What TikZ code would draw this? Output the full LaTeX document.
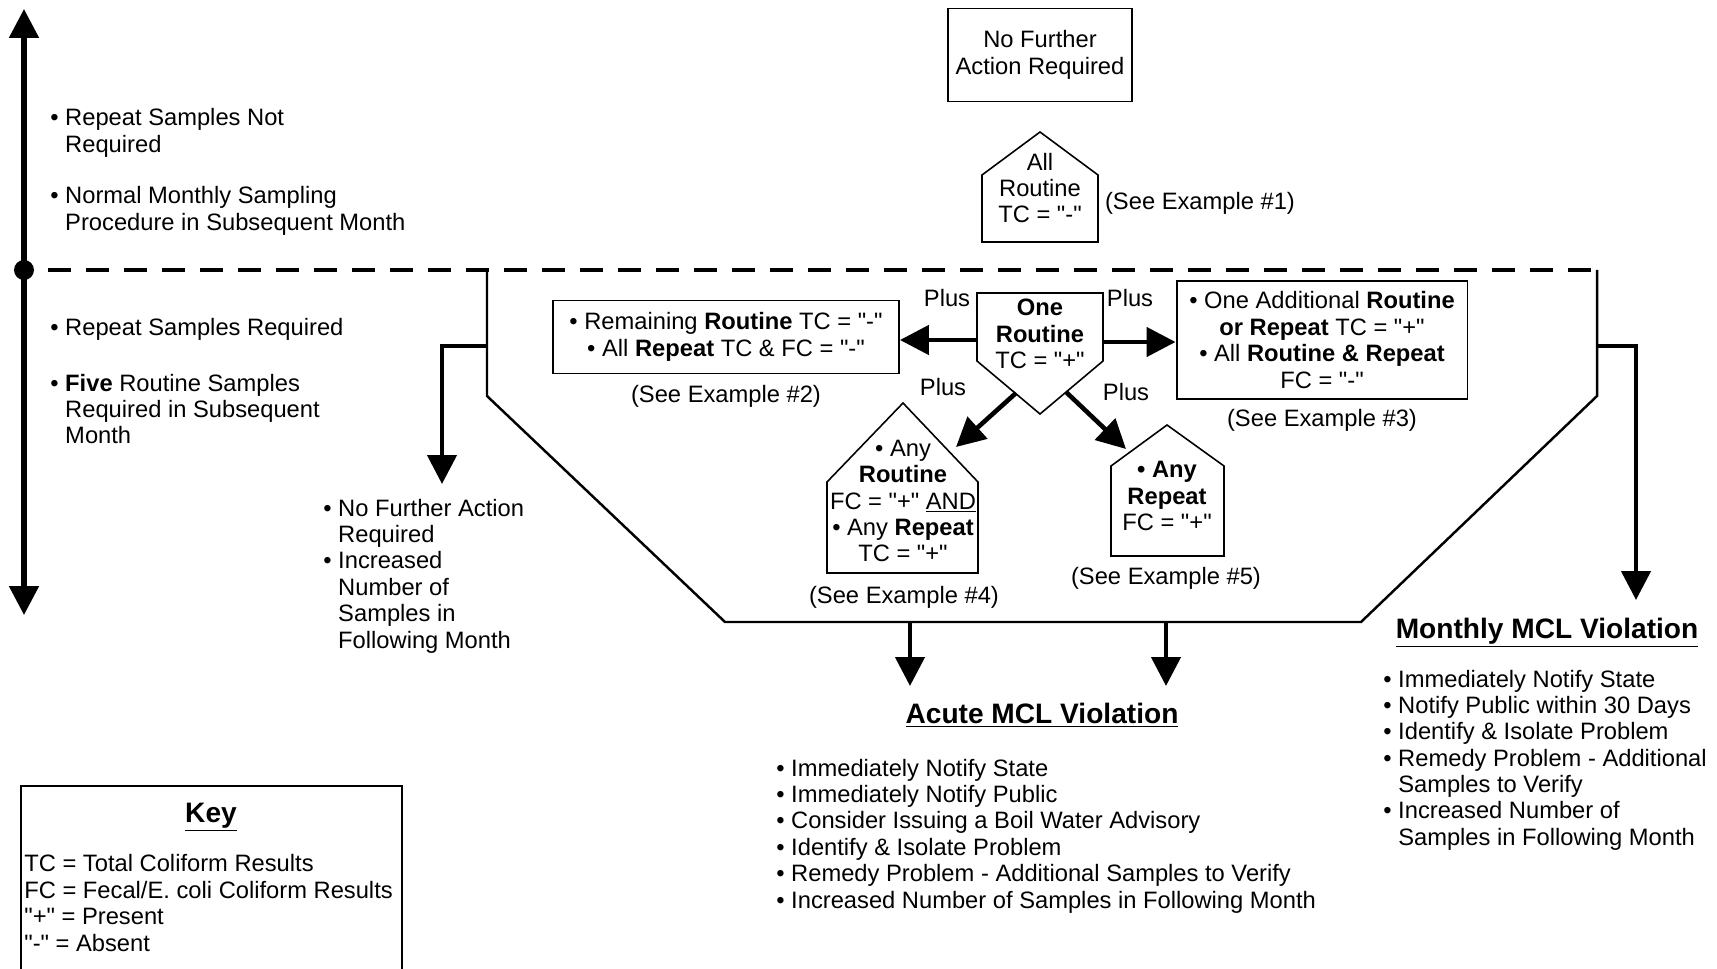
\documentclass[tikz,border=0pt]{standalone}
\usepackage{fontspec}
\setmainfont{Liberation Sans}[Ligatures=TeXOff]
\usetikzlibrary{arrows.meta,positioning}
\newcommand{\indnt}{\phantom{• }}

\begin{document}
\begin{tikzpicture}[x=0.02cm,y=-0.02cm,
  every node/.style={inner sep=0pt,font=\fontsize{13.5}{15}\selectfont},
  panel/.style={draw,line width=1.1pt,align=center},
  roof/.style={line width=0.9pt},
  rim/.style={line width=1.4pt},
  notes/.style={anchor=west,align=left},
  heading/.style={font=\fontsize{16}{19}\selectfont\bfseries},
  flow/.style={line width=2.6pt,-{Triangle[width=16.5pt,length=16.5pt]}},
]
\useasboundingbox (0,0) rectangle (1717,969);

% time axis
\coordinate (axisTop) at (24,9);
\coordinate (axisBot) at (24,615);
\coordinate (axisMid) at (24,270);
\coordinate (dashEnd) at (1597,270);
\draw[line width=3pt,{Triangle[width=16.5pt,length=16.5pt]}-{Triangle[width=16.5pt,length=16.5pt]}] (axisTop) -- (axisBot);
\fill (axisMid) circle (0.2cm);
\draw[line width=2.6pt,dash pattern=on 0.46cm off 0.3cm,dash phase=0.28cm] (axisMid) -- (dashEnd);

\node[notes] (noRep) at (50,133) {• Repeat Samples Not\\\indnt Required};
\node[notes] (normal) at (50,211) {• Normal Monthly Sampling\\\indnt Procedure in Subsequent Month};
\node[notes] (rep) at (50,329) {• Repeat Samples Required};
\node[notes] (five) at (50,409) {• \textbf{Five} Routine Samples\\\indnt Required in Subsequent\\\indnt Month};

% above the line
\node[panel,minimum width=3.68cm,minimum height=1.86cm] (noAct) at (1040,55) {No Further\\Action Required};
\node[align=center] (allR) at (1040,188) {All\\Routine\\TC = "-"};
\draw[roof] (982,242) -- (982,175) -- (1040,132) -- (1098,175) -- (1098,242) -- cycle;
\node (ex1) at (1200,203) {(See Example \#1)};

% one positive routine sample
\node[align=center] (oneR) at (1040,334) {\textbf{One}\\\textbf{Routine}\\TC = "+"};
\draw[roof] (977,293) -- (1103,293) -- (1103,361) -- (1040,414) -- (977,361) -- cycle;
\node (plusW) at (947,298) {Plus};
\node (plusE) at (1130,298) {Plus};
\node (plusSW) at (943,387) {Plus};
\node (plusSE) at (1126,392) {Plus};

\node[panel,minimum width=6.92cm,minimum height=1.46cm] (remain) at (726,337) {• Remaining \textbf{Routine} TC = "-"\\• All \textbf{Repeat} TC \& FC = "-"};
\node (ex2) at (726,396) {(See Example \#2)};

\node[panel,minimum width=5.82cm,minimum height=2.36cm] (addl) at (1322,340) {• One Additional \textbf{Routine}\\\textbf{or Repeat} TC = "+"\\• All \textbf{Routine \& Repeat}\\FC = "-"};
\node (ex3) at (1322,420) {(See Example \#3)};

\node[align=center] (anyRout) at (903,501) {• Any\\\textbf{Routine}\\FC = "+" \underline{AND}\\• Any \textbf{Repeat}\\TC = "+"};
\draw[roof] (827,573) -- (827,482) -- (903,403) -- (978,482) -- (978,573) -- cycle;
\node (ex4) at (904,597) {(See Example \#4)};

\node[align=center] (anyRep) at (1167,496) {\textbf{• Any}\\\textbf{Repeat}\\FC = "+"};
\draw[roof] (1111,556) -- (1111,466) -- (1167,425) -- (1224,466) -- (1224,556) -- cycle;
\node (ex5) at (1166,578) {(See Example \#5)};

\coordinate (oneW) at (977,340);
\coordinate (oneE) at (1103,342);
\coordinate (oneSW) at (1016,393);
\coordinate (oneSE) at (1066,392);
\coordinate (anyRoutTip) at (956,447);
\coordinate (anyRepTip) at (1126,449);
\draw[flow] (oneW) -- (remain.east |- oneW);
\draw[flow] (oneE) -- (addl.west |- oneE);
\draw[flow] (oneSW) -- (anyRoutTip);
\draw[flow] (oneSE) -- (anyRepTip);

% outcome frame
\draw[rim] (487,270) -- (487,396) -- (725,622) -- (1361,622) -- (1597,396) -- (1597,270);
\coordinate (rimL) at (487,346);
\coordinate (rimR) at (1597,346);
\coordinate (rimB1) at (910,622);
\coordinate (rimB2) at (1166,622);
\coordinate (leftEnd) at (442,484);
\coordinate (rightEnd) at (1636,600);
\coordinate (acute1) at (910,686);
\coordinate (acute2) at (1166,686);
\draw[flow] (rimL) -| (leftEnd);
\draw[flow] (rimR) -| (rightEnd);
\draw[flow] (rimB1) -- (acute1);
\draw[flow] (rimB2) -- (acute2);

\node[notes] (noFur) at (323,576) {• No Further Action\\\indnt Required\\• Increased\\\indnt Number of\\\indnt Samples in\\\indnt Following Month};

\node[heading] (monthly) at (1547,633) {\underline{Monthly MCL Violation}};
\node[notes] (monthlyList) at (1383,760) {• Immediately Notify State\\• Notify Public within 30 Days\\• Identify \& Isolate Problem\\• Remedy Problem - Additional\\\indnt Samples to Verify\\• Increased Number of\\\indnt Samples in Following Month};

\node[heading] (acute) at (1042,715) {\underline{Acute MCL Violation}};
\node[notes] (acuteList) at (776,836) {• Immediately Notify State\\• Immediately Notify Public\\• Consider Issuing a Boil Water Advisory\\• Identify \& Isolate Problem\\• Remedy Problem - Additional Samples to Verify\\• Increased Number of Samples in Following Month};

% key
\draw[line width=1.2pt] (21,969) -- (21,786) -- (402,786) -- (402,969);
\node[heading] (key) at (211,817) {\underline{Key}};
\node[notes] (keyList) at (24,903) {TC = Total Coliform Results\\FC = Fecal/E. coli Coliform Results\\"+" = Present\\"-" = Absent};
\end{tikzpicture}
\end{document}
